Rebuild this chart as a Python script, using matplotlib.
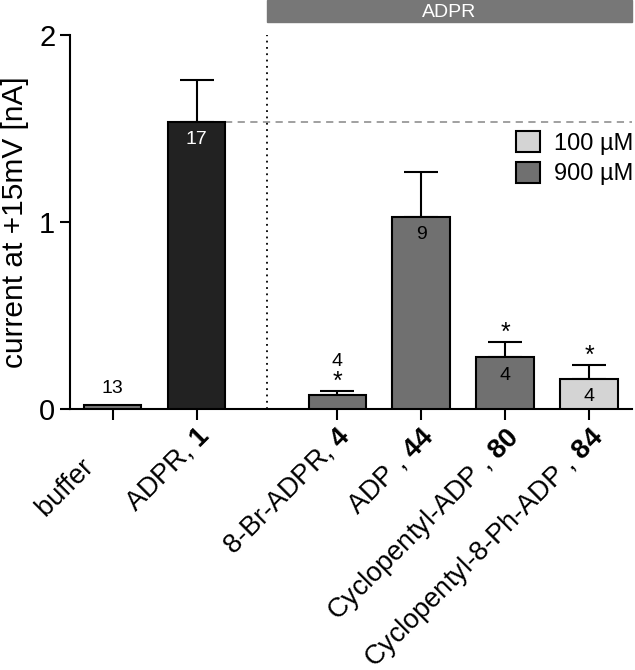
import numpy as np
import matplotlib
matplotlib.use('Agg')
matplotlib.rc('font', family='Liberation Sans')
matplotlib.rc('mathtext', fontset='custom', rm='Liberation Sans',
              bf='Liberation Sans:style=normal:weight=bold')
import matplotlib.pyplot as plt
from matplotlib.patches import Patch, Rectangle

# data
labels = ['buffer      ', r'ADPR, $\mathbf{1}$', r'8-Br-ADPR, $\mathbf{4}$',
          r'ADP , $\mathbf{44}$', r'Cyclopentyl-ADP , $\mathbf{80}$',
          r'Cyclopentyl-8-Ph-ADP , $\mathbf{84}$']
means = [0.02, 1.534, 0.072, 1.027, 0.274, 0.158]
sems = [0.0, 0.225, 0.022, 0.241, 0.084, 0.075]
n_cells = [13, 17, 4, 9, 4, 4]
signif = [False, False, True, False, True, True]
bar_colors = ['#7a7a7a', '#222222', '#707070', '#707070', '#707070', '#d4d4d4']
legend_labels = ['100 µM', '900 µM']
legend_colors = ['#d4d4d4', '#707070']


def main():
    x = np.array([0, 1, 2.67, 3.67, 4.67, 5.67])
    fig = plt.figure(figsize=(6.35, 6.70), dpi=100)
    ax = fig.add_axes([0.110, 0.390, 0.885, 0.558])

    ax.bar(x, means, width=0.68, color=bar_colors, edgecolor='k',
           linewidth=1.5, zorder=3)
    ax.errorbar(x[1:], means[1:], yerr=[np.zeros(5), sems[1:]], fmt='none',
                ecolor='k', elinewidth=1.5, capsize=12, capthick=1.5, zorder=2)

    for xi, m, s, n, st in zip(x, means, sems, n_cells, signif):
        top = m + s
        if m > 0.12:
            ax.text(xi, m - 0.095, str(n), ha='center', va='center', fontsize=14,
                    color='w' if m > 1.3 else 'k', zorder=4)
        elif st:
            ax.text(xi, top + 0.16, str(n), ha='center', va='center', fontsize=14)
        else:
            ax.text(xi, m + 0.09, str(n), ha='center', va='center', fontsize=14)
        if st:
            ax.text(xi, top + 0.01, '*', ha='center', va='baseline', fontsize=18)

    ax.axvline(1.83, ymin=0, ymax=1, color='k', ls=(0, (1, 2.5)), lw=1.3)
    ax.plot([x[1] + 0.34, 6.18], [means[1], means[1]], color='#999999',
            ls=(0, (4, 3)), lw=1.3, zorder=1)

    ax.add_patch(Rectangle((1.83, 2.07), 6.18 - 1.83, 0.117, color='#777777',
                           clip_on=False))
    ax.text((1.83 + 6.18) / 2, 2.122, 'ADPR', color='w', fontsize=14,
            ha='center', va='center')

    ax.set_xlim(-0.512, 6.18)
    ax.set_ylim(0, 2)
    ax.set_yticks([0, 1, 2])
    ax.set_xticks(x)
    ax.set_xticklabels(labels, rotation=45, ha='right', va='top',
                       rotation_mode='anchor', fontsize=19.5)
    ax.tick_params(axis='x', length=8, width=1.5, pad=2)
    ax.tick_params(axis='y', length=7, width=1.5, labelsize=21)
    ax.set_ylabel('current at +15mV [nA]', fontsize=21.5, labelpad=7)
    for side in ['top', 'right']:
        ax.spines[side].set_visible(False)
    for side in ['left', 'bottom']:
        ax.spines[side].set_linewidth(1.5)

    handles = [Patch(facecolor=c, edgecolor='k', linewidth=1.5)
               for c in legend_colors]
    ax.legend(handles, legend_labels, loc='upper right',
              bbox_to_anchor=(1.04, 0.80), frameon=False, fontsize=17,
              handlelength=1.0, handleheight=1.0, handletextpad=0.6,
              labelspacing=0.3)

    fig.savefig('out.png', dpi=100)


if __name__ == '__main__':
    main()
